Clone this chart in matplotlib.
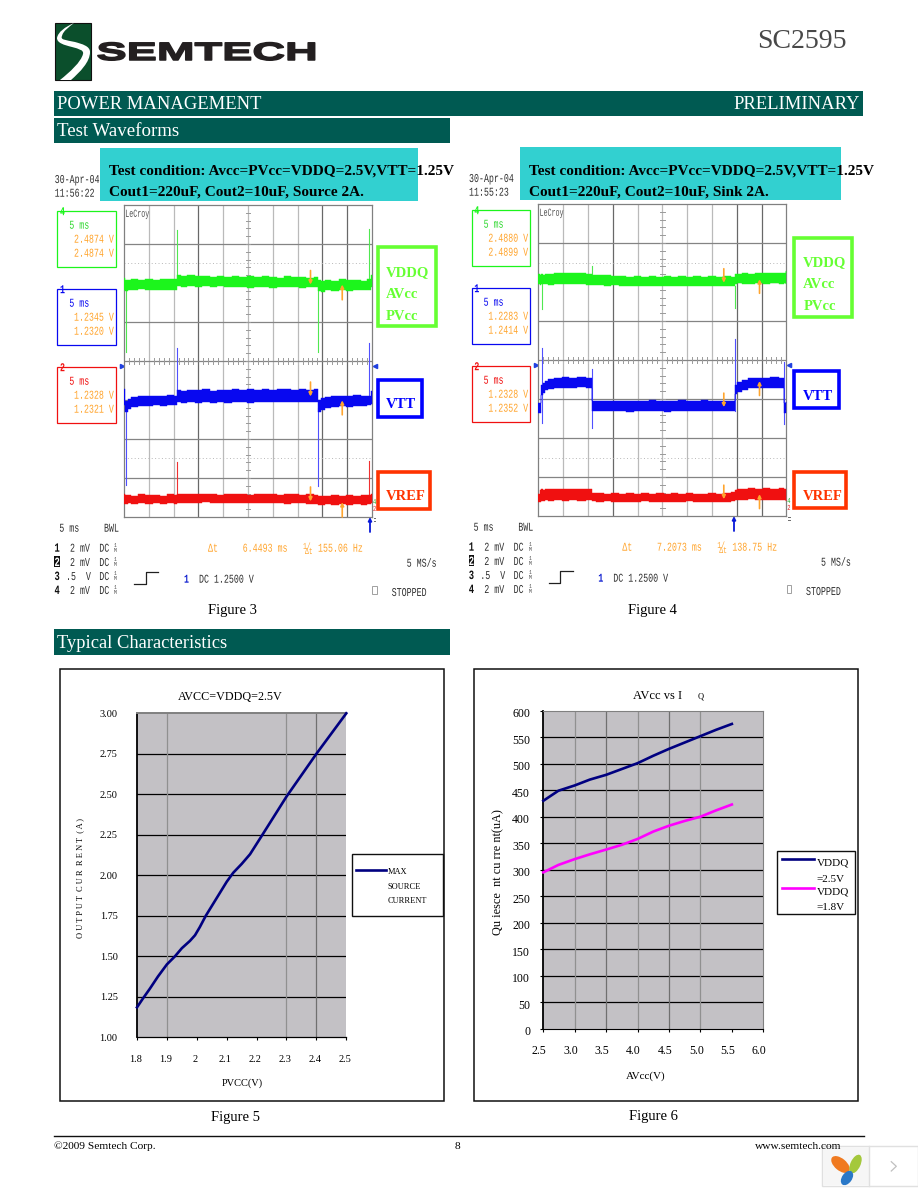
"""
SC2595 datasheet page 8: scope captures (Figure 3, 4) and typical curves (Figure 5, 6)
"""

import numpy as np
import matplotlib
matplotlib.use('Agg')
import matplotlib.pyplot as plt
from matplotlib.patches import Rectangle, Ellipse, PathPatch
from matplotlib.path import Path
from matplotlib.patheffects import AbstractPathEffect
from matplotlib.transforms import Affine2D, ScaledTranslation

W, H = 918, 1188
SERIF = 'Liberation Serif'
MONO = 'Liberation Mono'
BAR = '#005a52'
ORANGE = '#ffa52e'
GREEN, BLUE, RED = '#1cf51c', '#0808f0', '#f01010'

# ---- scope traces, ms along x and divisions from the top along y ----
T3 = [0, .5, 1, 2, 3.5, 5, 6.5, 8, 9.5, 10.7,
      10.8, 12, 13.5, 15, 16.5, 18, 19.5, 21, 22.5, 24, 25.5, 27, 28.5, 30, 31.5, 33, 34.5, 36, 37.5, 39.1,
      39.3, 40, 41, 42.5, 44, 45.5, 47, 48.5, 49.5, 50]
G3_TOP = [1.86, 1.93, 1.92, 1.91, 1.93, 1.90, 1.92, 1.91, 1.90, 1.91,
          1.79, 1.82, 1.80, 1.83, 1.81, 1.84, 1.82, 1.85, 1.83, 1.84, 1.82, 1.85, 1.83, 1.84, 1.86, 1.83, 1.85, 1.84, 1.86, 1.84,
          1.93, 1.95, 1.92, 1.94, 1.91, 1.93, 1.92, 1.94, 1.91, 1.80]
G3_BOT = [2.18, 2.20, 2.17, 2.19, 2.16, 2.18, 2.19, 2.17, 2.18, 2.17,
          2.07, 2.09, 2.07, 2.10, 2.08, 2.11, 2.08, 2.10, 2.11, 2.09, 2.12, 2.09, 2.10, 2.12, 2.10, 2.11, 2.09, 2.12, 2.10, 2.09,
          2.21, 2.22, 2.19, 2.21, 2.18, 2.20, 2.17, 2.19, 2.18, 2.10]
B3_TOP = [4.72, 5.03, 4.97, 4.93, 4.91, 4.89, 4.91, 4.90, 4.88, 4.89,
          4.74, 4.76, 4.74, 4.75, 4.73, 4.76, 4.74, 4.75, 4.73, 4.74, 4.72, 4.75, 4.73, 4.74, 4.72, 4.73, 4.74, 4.73, 4.74, 4.73,
          4.99, 4.94, 4.92, 4.90, 4.89, 4.91, 4.88, 4.90, 4.89, 4.76]
B3_BOT = [5.12, 5.30, 5.24, 5.19, 5.16, 5.15, 5.14, 5.16, 5.13, 5.14,
          5.05, 5.07, 5.05, 5.07, 5.06, 5.08, 5.05, 5.07, 5.06, 5.05, 5.07, 5.05, 5.06, 5.04, 5.06, 5.05, 5.04, 5.05, 5.04, 5.05,
          5.30, 5.25, 5.21, 5.18, 5.16, 5.17, 5.15, 5.16, 5.14, 5.10]
R3_TOP = [7.42, 7.44, 7.43, 7.45, 7.42, 7.44, 7.43, 7.45, 7.42, 7.43,
          7.40, 7.41, 7.42, 7.40, 7.42, 7.41, 7.43, 7.41, 7.42, 7.40, 7.43, 7.41, 7.42, 7.41, 7.43, 7.42, 7.41, 7.43, 7.42, 7.43,
          7.46, 7.45, 7.47, 7.44, 7.46, 7.44, 7.45, 7.43, 7.44, 7.42]
R3_BOT = [7.66, 7.67, 7.65, 7.67, 7.65, 7.66, 7.64, 7.66, 7.65, 7.66,
          7.63, 7.65, 7.63, 7.64, 7.62, 7.65, 7.63, 7.64, 7.65, 7.63, 7.65, 7.63, 7.64, 7.65, 7.64, 7.66, 7.64, 7.65, 7.66, 7.67,
          7.69, 7.68, 7.66, 7.68, 7.67, 7.69, 7.66, 7.68, 7.67, 7.65]

T4 = [0, .5, .7, 1, 1.5, 2.5, 4, 5.5, 7, 8.5, 10.8,
      10.95, 12.5, 14, 15.5, 17, 18.5, 20, 21.5, 23, 24.5, 26, 27.5, 29, 30.5, 32, 33.5, 35, 36.5, 38, 39.5,
      39.7, 40.5, 41.5, 43, 44.5, 46, 47.5, 49.5, 49.7, 50]
G4_TOP = [1.80, 1.81, 1.79, 1.81, 1.80, 1.79, 1.77, 1.78, 1.76, 1.78, 1.80,
          1.81, 1.83, 1.82, 1.85, 1.84, 1.86, 1.85, 1.87, 1.85, 1.86, 1.84, 1.86, 1.85, 1.87, 1.85, 1.86, 1.84, 1.86, 1.85, 1.86,
          1.79, 1.80, 1.78, 1.79, 1.76, 1.78, 1.77, 1.78, 1.76, 1.72]
G4_BOT = [2.06, 2.07, 2.05, 2.06, 2.05, 2.07, 2.05, 2.06, 2.04, 2.06, 2.07,
          2.08, 2.07, 2.09, 2.08, 2.10, 2.09, 2.10, 2.11, 2.09, 2.10, 2.11, 2.09, 2.10, 2.09, 2.11, 2.10, 2.09, 2.11, 2.10, 2.09,
          2.04, 2.03, 2.05, 2.04, 2.03, 2.05, 2.03, 2.04, 2.03, 2.05]
B4_TOP = [5.09, 5.09, 4.65, 4.60, 4.53, 4.48, 4.46, 4.44, 4.46, 4.44, 4.45,
          5.05, 5.04, 5.06, 5.05, 5.04, 5.06, 5.04, 5.05, 5.03, 5.05, 5.04, 5.05, 5.03, 5.04, 5.05, 5.03, 5.04, 5.05, 5.04, 5.05,
          4.64, 4.56, 4.50, 4.47, 4.45, 4.46, 4.44, 4.45, 5.09, 5.08]
B4_BOT = [5.35, 5.35, 4.90, 4.84, 4.78, 4.74, 4.72, 4.71, 4.72, 4.70, 4.71,
          5.31, 5.32, 5.30, 5.32, 5.31, 5.33, 5.31, 5.32, 5.30, 5.32, 5.33, 5.31, 5.32, 5.30, 5.31, 5.32, 5.30, 5.31, 5.32, 5.30,
          4.88, 4.82, 4.76, 4.73, 4.72, 4.73, 4.71, 4.72, 5.35, 5.34]
R4_TOP = [7.44, 7.34, 7.32, 7.33, 7.31, 7.30, 7.32, 7.30, 7.31, 7.30, 7.32,
          7.42, 7.41, 7.43, 7.42, 7.44, 7.42, 7.43, 7.41, 7.43, 7.42, 7.44, 7.42, 7.43, 7.42, 7.44, 7.43, 7.42, 7.43, 7.41, 7.38,
          7.33, 7.30, 7.31, 7.29, 7.30, 7.28, 7.30, 7.29, 7.30, 7.33]
R4_BOT = [7.65, 7.63, 7.61, 7.62, 7.60, 7.61, 7.60, 7.62, 7.60, 7.61, 7.60,
          7.62, 7.64, 7.62, 7.63, 7.65, 7.63, 7.64, 7.62, 7.64, 7.63, 7.65, 7.63, 7.64, 7.62, 7.64, 7.65, 7.63, 7.64, 7.63, 7.62,
          7.60, 7.58, 7.59, 7.57, 7.59, 7.58, 7.60, 7.58, 7.59, 7.62]

# glitches: time, from, to
G3_SPIKES = [(10.74, 0.65, 1.9), (0.47, 2.19, 3.78), (39.2, 2.1, 3.78), (49.4, 0.62, 1.9)]
B3_SPIKES = [(10.74, 3.67, 4.9), (0.47, 5.29, 7.17), (39.2, 5.2, 7.21), (49.4, 3.54, 4.9)]
R3_SPIKES = [(10.74, 6.6, 7.43), (49.4, 6.57, 7.43)]
G4_SPIKES = [(0.67, 2.06, 2.70), (39.6, 2.09, 2.66), (10.9, 1.59, 1.8)]
B4_SPIKES = [(0.67, 3.68, 5.61), (10.9, 4.24, 5.74), (39.6, 3.45, 5.31), (49.6, 4.05, 5.65)]
R4_SPIKES = []

# cursors: position in ms, then (tail, head) for each trace
C3_T = [37.6, 44.0]
C3_DOWN = [(1.68, 2.04), (4.54, 4.91), (7.23, 7.6)]
C3_UP = [(2.43, 2.04), (5.38, 5.01), (8.0, 7.62)]
C4_T = [37.4, 44.6]
C4_DOWN = [(1.66, 2.02), (4.85, 5.21), (7.21, 7.57)]
C4_UP = [(2.29, 1.93), (4.91, 4.54), (7.81, 7.44)]

# readouts
R3_CH4 = ['2.4874 V', '2.4874 V']
R3_CH1 = ['1.2345 V', '1.2320 V']
R3_CH2 = ['1.2328 V', '1.2321 V']
R4_CH4 = ['2.4880 V', '2.4899 V']
R4_CH1 = ['1.2283 V', '1.2414 V']
R4_CH2 = ['1.2328 V', '1.2352 V']

# ---- Figure 5 ----
F5_X = [1.8, 1.82, 1.843, 1.87, 1.9, 1.927, 1.95, 1.977, 1.994, 2.01, 2.03, 2.066, 2.10, 2.122, 2.15, 2.178,
        2.217, 2.30, 2.40, 2.50]
F5_Y = [1.185, 1.24, 1.30, 1.375, 1.45, 1.50, 1.55, 1.595, 1.63, 1.68, 1.75, 1.858, 1.96, 2.016, 2.07, 2.13,
        2.243, 2.486, 2.75, 3.0]
F5_XTICKS = [1.8, 1.9, 2.0, 2.1, 2.2, 2.3, 2.4, 2.5]
F5_XLABELS = ['1.8', '1.9', '2', '2.1', '2.2', '2.3', '2.4', '2.5']
F5_YTICKS = [1.0, 1.25, 1.5, 1.75, 2.0, 2.25, 2.5, 2.75, 3.0]

# ---- Figure 6 ----
F6_X = [2.5, 2.74, 3.0, 3.24, 3.5, 3.75, 4.0, 4.25, 4.5, 4.75, 5.0, 5.25, 5.5]
F6_25V = [430, 449, 459, 470, 479, 490, 501, 515, 528, 540, 552, 564, 575]
F6_18V = [295, 309, 320, 329, 338, 347, 358, 372, 383, 392, 400, 412, 423]
F6_XTICKS = [2.5, 3.0, 3.5, 4.0, 4.5, 5.0, 5.5, 6.0]
F6_YTICKS = [0, 50, 100, 150, 200, 250, 300, 350, 400, 450, 500, 550, 600]


class Stretch(AbstractPathEffect):
    # the scans have squeezed type, text stays text but gets scaled when drawn
    def __init__(self, sx=1.0, sy=1.0, stroke=0.0):
        super().__init__()
        self.sx, self.sy, self.stroke = sx, sy, stroke

    def draw_path(self, renderer, gc, tpath, affine, rgbFace=None):
        gc0 = renderer.new_gc()
        gc0.copy_properties(gc)
        if self.stroke:
            gc0.set_linewidth(self.stroke)
            gc0.set_foreground(rgbFace)
        renderer.draw_path(gc0, tpath, Affine2D().scale(self.sx, self.sy) + affine, rgbFace)
        gc0.restore()


fig = plt.figure(figsize=(W / 100, H / 100), dpi=100, facecolor='white')
pg = fig.add_axes([0, 0, 1, 1], zorder=0)
pg.set_xlim(0, W)
pg.set_ylim(H, 0)
pg.axis('off')


def px_axes(x0, y0, x1, y1):
    return fig.add_axes([x0 / W, 1 - y1 / H, (x1 - x0) / W, (y1 - y0) / H], zorder=1)


def box(x0, y0, x1, y1, edge='none', face='none', lw=1.0):
    pg.add_patch(Rectangle((x0, y0), x1 - x0, y1 - y0, ec=edge, fc=face, lw=lw))


def serif(x, y, s, size=9, color='black', weight='normal', ha='left', **kw):
    return pg.text(x, y, s, family=SERIF, fontsize=size, color=color, fontweight=weight,
                   ha=ha, va='baseline', **kw)


def scope_txt(x, y, s, color='#303030', size=7.2, sx=.83, sy=1.2, weight='normal'):
    t = pg.text(x, y, s, family=MONO, fontsize=size, color=color, ha='left', va='baseline', fontweight=weight)
    t.set_path_effects([Stretch(sx, sy)])
    return t


def draw_scope(dx, dy, T, traces, spikes, cur_t, cur_down, cur_up, date, clock, readouts,
               delta, freq, vgrid_dark, cond_right, cond_tail, trig_x, labels):
    # teal condition box
    box(100 + dx + (6 if dx else 0), 148 + dy, cond_right, 200.7 + dy, face='#32d0d0')
    serif(109 + dx + (6 if dx else 0), 174.5, 'Test condition: Avcc=PVcc=VDDQ=2.5V,VTT=1.25V', 10.95, weight='bold')
    serif(109 + dx + (6 if dx else 0), 196, cond_tail, 10.95, weight='bold')

    scope_txt(54.7 + dx, 183 + dy, date)
    scope_txt(54.7 + dx, 196.7 + dy, clock)

    ax = px_axes(124 + dx, 205 + dy, 372 + dx, 517 + dy)
    ax.set_xlim(0, 50)
    ax.set_ylim(8, 0)
    ax.set_xticks([])
    ax.set_yticks([])
    for s in ax.spines.values():
        s.set_color('#808080')
        s.set_linewidth(0.9)
    for i, t in enumerate(range(5, 50, 5)):
        ax.axvline(t, color='#686868' if i in vgrid_dark else '#bababa', lw=0.9, zorder=1)
    for d in range(1, 8):
        ax.axhline(d, color='#848484', lw=0.9, zorder=1)
    for d in [1.5, 6.5]:
        ax.axhline(d, color='#b8b8b8', lw=0.7, ls=(0, (1, 2.5)), zorder=1)
    # graticule ticks on the centre lines
    for t in np.arange(1, 50):
        if t % 5:
            ax.plot([t, t], [3.93, 4.07], color='#9a9a9a', lw=0.7, zorder=1)
    for d in np.arange(0.2, 8, 0.2):
        ax.plot([24.5, 25.5], [d, d], color='#9a9a9a', lw=0.7, zorder=1)

    colors = [GREEN, BLUE, RED]
    thin = ['#50e850', '#5050ff', '#f03030']
    for (top, bot), c, th, sp in zip(traces, colors, thin, spikes):
        for t, a, b in sp:
            ax.plot([t, t], [a, b], color=th, lw=0.8, zorder=2)
        ax.fill_between(T, top, bot, color=c, lw=0.3, zorder=3, step='mid')

    for k in range(3):
        for t, (tail, head) in zip(cur_t, [cur_down[k], cur_up[k]]):
            ax.annotate('', xy=(t, head), xytext=(t, tail), annotation_clip=False, zorder=4,
                        arrowprops=dict(arrowstyle='-|>', color=ORANGE, lw=1.2, mutation_scale=5,
                                        shrinkA=0, shrinkB=0))

    t = ax.text(0.005, 0.962, 'LeCroy', family=MONO, fontsize=6, color='#505050', va='baseline', ha='left',
                transform=ax.transAxes)
    t.set_path_effects([Stretch(.8, 1.3)])
    pg.plot([125 + dx, 148 + dx], [220.7 + dy, 220.7 + dy], color='#808080', lw=0.7)

    # channel readout boxes
    tops = [210.7, 288.7, 366.7]
    names = ['4', '1', '2']
    for top, name, c, vals in zip(tops, names, [GREEN, BLUE, RED], readouts):
        pg.add_patch(Rectangle((57.3 + dx, top + dy), 58.4, 56.6, ec=c, fc='white', lw=0.9))
        scope_txt(69.3 + dx, top + 18 + dy, '5 ms', c if name != '4' else '#30d830')
        scope_txt(74 + dx, top + 32 + dy, vals[0], ORANGE)
        scope_txt(74 + dx, top + 46 + dy, vals[1], ORANGE)
        scope_txt(60 + dx, top + 4.5 + dy, name, c, weight='bold')

    # edge markers and trigger arrow
    pg.plot([122 + dx], [366 + dy], marker='>', color='#2040e0', ms=3)
    pg.plot([375 + dx], [366 + dy], marker='<', color='#2040e0', ms=3)
    pg.annotate('', xy=(trig_x, 517 + dy), xytext=(trig_x, 532 + dy), annotation_clip=False,
                arrowprops=dict(arrowstyle='-|>', color='#0818d8', lw=1.3, mutation_scale=5, shrinkA=0, shrinkB=0))
    scope_txt(373 + dx, 504 + dy, '4', '#20b020', size=4.6)
    scope_txt(373 + dx, 511 + dy, '2', '#e02020', size=4.6)
    scope_txt(373 + dx, 524 + dy, 'F', '#707070', size=5.5)

    # bottom status text
    scope_txt(59.3 + dx, 531.7 + dy, '5 ms')
    scope_txt(104 + dx, 531.7 + dy, 'BWL')
    rows = [551.7, 566, 580, 594]
    chans = ['1', '2', '3', '4']
    scales = ['2 mV', '2 mV', '.5  V', '2 mV']
    for y, ch, sc in zip(rows, chans, scales):
        if ch == '2':
            box(54.3 + dx, y - 10 + dy, 59.8 + dx, y + 1 + dy, face='#101010')
            scope_txt(54.5 + dx, y + dy, ch, 'white', size=7.6, weight='bold')
        else:
            scope_txt(54.5 + dx, y + dy, ch, '#101010', size=7.6, weight='bold')
        scope_txt((66 if ch == '3' else 70) + dx, y + dy, sc)
        scope_txt(99.3 + dx, y + dy, 'DC')
        pg.text(114 + dx, y + dy, '1\nM', family=MONO, fontsize=3.4, color='#505050', va='baseline', ha='left',
                linespacing=0.9)

    scope_txt(208 + dx, 551.7 + dy, '\u0394t', ORANGE)
    scope_txt(242.7 + dx, 551.7 + dy, delta, ORANGE)
    scope_txt(303 + dx, 549 + dy, '1/', ORANGE, size=5.5)
    scope_txt(305 + dx, 554 + dy, '\u0394t', ORANGE, size=5.5)
    scope_txt(318 + dx, 551.7 + dy, freq, ORANGE)
    scope_txt(406.7 + dx, 566.7 + dy, '5 MS/s')
    scope_txt(184 + dx, 582.7 + dy, '1', '#1020d0', weight='bold')
    scope_txt(199 + dx, 582.7 + dy, 'DC 1.2500 V')
    pg.plot([134.3 + dx, 145.7 + dx, 145.7 + dx, 158.3 + dx],
            [584.3 + dy, 584.3 + dy, 572.3 + dy, 572.3 + dy], color='#202020', lw=0.9)
    box(372.3 + dx, 585.7 + dy, 376.7 + dx, 594.3 + dy, edge='#a0a0a0', lw=0.7)
    scope_txt(391.7 + dx, 596 + dy, 'STOPPED')

    # hand made labels next to the capture
    for x0, y0, x1, y1, c, lines in labels:
        box(x0, y0, x1, y1, edge=c, lw=2.6)
        for lx, ly, s in lines:
            serif(lx, ly, s, 10.5, c, weight='bold')


# ---- page head ----
box(55, 23, 91, 80, edge='#101010', face='#0b4f2c', lw=0.8)
verts = [(74, 23), (65, 27), (58, 32), (57, 38), (57, 43), (64, 45), (72, 47), (79, 49), (84, 50), (83, 54),
         (81, 62), (70, 72), (60, 80), (71, 80), (80, 72), (90, 62), (90, 52), (90, 46), (82, 44), (75, 42),
         (66, 40), (60, 40), (62, 36), (63, 31), (69, 27), (74, 23)]
codes = [Path.MOVETO] + [Path.CURVE4] * 12 + [Path.LINETO] + [Path.CURVE4] * 12
pg.add_patch(PathPatch(Path(verts, codes), fc='white', ec='none'))
t = pg.text(96.5, 60, 'SEMTECH', family='Liberation Sans', fontweight='bold', fontsize=18, color='#231f20',
            ha='left', va='baseline')
t.set_path_effects([Stretch(1.81, 1.0, stroke=1.1)])
serif(757, 48, 'SC2595', 20, '#484848')

box(54, 91, 863, 116, face=BAR)
serif(57, 109, 'POWER MANAGEMENT', 13.4, 'white')
serif(860, 109, 'PRELIMINARY', 13.4, 'white', ha='right')
box(54, 118, 450, 143, face=BAR)
serif(57, 136, 'Test Waveforms', 13.6, 'white')
box(54, 629, 450, 655, face=BAR)
serif(57, 647.7, 'Typical Characteristics', 13.3, 'white')

# ---- scope captures ----
draw_scope(0, 0, T3, [(G3_TOP, G3_BOT), (B3_TOP, B3_BOT), (R3_TOP, R3_BOT)],
           [G3_SPIKES, B3_SPIKES, R3_SPIKES], C3_T, C3_DOWN, C3_UP,
           '30-Apr-04', '11:56:22', [R3_CH4, R3_CH1, R3_CH2], '6.4493 ms', '155.06 Hz', [2, 7, 8], 418,
           'Cout1=220uF, Cout2=10uF, Source 2A.', 370,
           [(377.7, 247.3, 436, 325.7, '#66ff33', [(386, 276, 'VDDQ'), (386, 298.3, 'AVcc'), (386, 320, 'PVcc')]),
            (377.7, 380, 422, 416.7, '#0000ff', [(386, 408, 'VTT')]),
            (377.7, 472.3, 430, 508.7, '#ff3300', [(386, 500, 'VREF')])])
draw_scope(414.3, -1, T4, [(G4_TOP, G4_BOT), (B4_TOP, B4_BOT), (R4_TOP, R4_BOT)],
           [G4_SPIKES, B4_SPIKES, R4_SPIKES], C4_T, C4_DOWN, C4_UP,
           '30-Apr-04', '11:55:23', [R4_CH4, R4_CH1, R4_CH2], '7.2073 ms', '138.75 Hz', [2, 7, 8], 841,
           'Cout1=220uF, Cout2=10uF, Sink 2A.', 734,
           [(793.7, 238.3, 852.3, 316.7, '#66ff33', [(803.3, 266, 'VDDQ'), (803.3, 288.3, 'AVcc'), (803.3, 310, 'PVcc')]),
            (793.7, 371, 839.3, 407.7, '#0000ff', [(803.3, 400, 'VTT')]),
            (793.7, 472.3, 846, 508, '#ff3300', [(803.3, 500, 'VREF')])])
serif(208, 614, 'Figure 3', 10.5)
serif(628, 614, 'Figure 4', 10.5)

# ---- Figure 5 ----
box(60.3, 669.3, 443.7, 1101.3, edge='#101010', lw=1.1)
ax5 = px_axes(137, 713.3, 346.3, 1037.3)
ax5.set_facecolor('#c3c1c5')
ax5.set_xlim(1.8, 2.5)
ax5.set_ylim(1.0, 3.0)
for y in F5_YTICKS[1:-1]:
    ax5.axhline(y, color='black', lw=0.9, zorder=1)
for x, c in zip([1.9, 2.3, 2.4], ['#909090', '#909090', '#707070']):
    ax5.axvline(x, color=c, lw=0.9, zorder=1)
ax5.plot(F5_X, F5_Y, color='#000080', lw=1.9, zorder=3, clip_on=False)
ax5.set_xticks(F5_XTICKS)
ax5.set_xticklabels(F5_XLABELS, family=SERIF, fontsize=7.4)
ax5.set_yticks(F5_YTICKS)
ax5.set_yticklabels(['%.2f' % v for v in F5_YTICKS], family=SERIF, fontsize=7.4)
ax5.tick_params(axis='x', length=2.5, width=0.8, pad=10)
ax5.tick_params(axis='y', length=0, pad=14)
for lab in ax5.get_xticklabels():
    lab.set_transform(lab.get_transform() + ScaledTranslation(-1.5 / 100, 0, fig.dpi_scale_trans))
ax5.spines['right'].set_visible(False)
ax5.spines['top'].set_color('#808080')
ax5.spines['top'].set_linewidth(1.4)
ax5.spines['left'].set_linewidth(1.3)
ax5.spines['bottom'].set_linewidth(0.9)
serif(230.3, 700, 'AVCC=VDDQ=2.5V', 8.7, ha='center')
serif(242, 1086, 'PVCC(V)', 7.5, ha='center')
serif(82, 878, 'O U T P U T  C U R  R E N T  ( A )', 6, ha='center', rotation=90, rotation_mode='anchor')
box(351.7, 854.3, 442.7, 916.3, edge='#101010', lw=1.0)
pg.plot([355.7, 386], [869.7, 869.7], color='#000080', lw=1.9)
for y, s in zip([874.3, 888.7, 902.7], ['MAX', 'SOURCE', 'CURRENT']):
    serif(387.7, y, s, 6)
serif(210.7, 1120.7, 'Figure 5', 10.5)

# ---- Figure 6 ----
box(474.3, 669.3, 857.7, 1101.3, edge='#101010', lw=1.1)
ax6 = px_axes(543.3, 710.7, 763.3, 1028.7)
ax6.set_facecolor('#c3c1c5')
ax6.set_xlim(2.5, 6.0)
ax6.set_ylim(0, 600)
for y in F6_YTICKS[1:-1]:
    ax6.axhline(y, color='black', lw=0.9, zorder=1)
for x, c in zip([3.0, 3.5, 4.0, 4.5, 5.0], ['#909090', '#707070', '#909090', '#707070', '#909090']):
    ax6.axvline(x, color=c, lw=0.9, zorder=1)
ax6.plot(F6_X, F6_25V, color='#000080', lw=1.9, zorder=3, clip_on=False)
ax6.plot(F6_X, F6_18V, color='#ff00ff', lw=1.9, zorder=3, clip_on=False)
ax6.set_xticks(F6_XTICKS)
ax6.set_xticklabels(['%.1f' % v for v in F6_XTICKS], family=SERIF, fontsize=8.5)
ax6.set_yticks(F6_YTICKS)
ax6.set_yticklabels([str(v) for v in F6_YTICKS], family=SERIF, fontsize=8.5)
ax6.tick_params(axis='x', length=2.5, width=0.8, pad=9)
ax6.tick_params(axis='y', length=2.5, width=0.8, pad=7)
for lab in ax6.get_xticklabels():
    lab.set_transform(lab.get_transform() + ScaledTranslation(-4 / 100, 0, fig.dpi_scale_trans))
for lab in ax6.get_yticklabels():
    lab.set_transform(lab.get_transform() + ScaledTranslation(0, -2 / 100, fig.dpi_scale_trans))
for side in ['top', 'right']:
    ax6.spines[side].set_color('#808080')
ax6.spines['left'].set_linewidth(1.3)
serif(632.7, 699, 'AVcc vs I', 9)
serif(698, 699, 'Q', 6)
serif(646, 1078.7, 'AVcc(V)', 8, ha='center')
serif(501, 872, 'Qu iesce  nt cu rre nt(uA)', 8.8, ha='center', rotation=90, rotation_mode='anchor')
box(776.7, 850.7, 855.3, 914.3, edge='#101010', lw=1.0)
pg.plot([781.7, 814], [859.3, 859.3], color='#000080', lw=1.9)
pg.plot([781.7, 814], [887.7, 887.7], color='#ff00ff', lw=1.9)
for y, s in zip([865.7, 881.7, 894, 910], ['VDDQ', '=2.5V', 'VDDQ', '=1.8V']):
    serif(816.7, y, s, 8)
serif(628.7, 1120, 'Figure 6', 10.5)

# ---- foot ----
pg.plot([54, 864], [1136, 1136], color='#101010', lw=1.0)
serif(54, 1149, '\u00a92009 Semtech Corp.', 8.2)
serif(455, 1149, '8', 8.2)
serif(755, 1149, 'www.semtech.com', 8.2)

# viewer widget in the corner of the scan
box(822, 1146, 918, 1185.5, edge='#e0e0e0', face='white', lw=1.0)
box(822.5, 1146.5, 868.7, 1185, face='#f6f6f6')
pg.plot([868.7, 868.7], [1146, 1185.5], color='#e0e0e0', lw=1.0)
pg.add_patch(Ellipse((840.5, 1164.5), 22, 12, angle=40, fc='#f07a20', ec='none'))
pg.add_patch(Ellipse((855.5, 1164), 20, 10, angle=-65, fc='#a4c83c', ec='none'))
pg.add_patch(Ellipse((847, 1178), 16, 10, angle=-55, fc='#2a78c8', ec='none'))
pg.plot([891.3, 896.3, 891.3], [1161.7, 1166.3, 1171], color='#c0c0c0', lw=0.9)

fig.savefig('out.png', dpi=100, facecolor='white')
